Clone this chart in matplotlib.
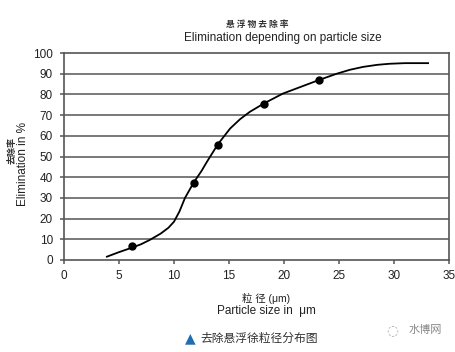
import matplotlib
matplotlib.use('Agg')
import matplotlib.pyplot as plt
import numpy as np

plt.rcParams['font.family'] = ['Liberation Sans', 'Noto Sans CJK SC', 'DejaVu Sans']

# measured points
pt_x = [6.2, 11.8, 14.0, 18.2, 23.2]
pt_y = [7.0, 37.0, 55.5, 75.5, 86.8]

# fitted curve
curve_x = [3.9, 5.0, 6.2, 7.0, 7.8, 8.8, 9.5, 10.0, 10.5, 11.0, 11.8, 12.5, 13.0, 14.0,
           15.1, 16.0, 16.9, 18.2, 19.9, 21.5, 23.2, 24.8, 26.0, 27.2, 28.5, 29.6, 31.0, 33.1]
curve_y = [1.6, 3.8, 6.0, 7.6, 9.7, 12.8, 15.6, 18.5, 23.5, 30.0, 37.5, 43.0, 47.5, 56.0,
           63.5, 68.0, 71.6, 75.7, 80.4, 83.6, 87.0, 90.0, 91.9, 93.3, 94.3, 94.8, 95.1, 95.1]

xticks = [0, 5, 10, 15, 20, 25, 30, 35]
yticks = [0, 10, 20, 30, 40, 50, 60, 70, 80, 90, 100]

fig = plt.figure(figsize=(4.56, 3.52), dpi=100)
ax = fig.add_axes([64/456, 1-260/352, (449-64)/456, (260-53)/352])

grid_c = '#555555'
for y in yticks[1:-1]:
    ax.axhline(y, color=grid_c, lw=1.1, zorder=1)

ax.plot(curve_x, curve_y, color='black', lw=1.3, zorder=3)
ax.plot(pt_x, pt_y, 'o', color='black', markersize=5, zorder=4)

ax.set_xlim(0, 35)
ax.set_ylim(0, 100)
ax.set_xticks(xticks)
ax.set_yticks(yticks)
for s in ax.spines.values():
    s.set_color(grid_c)
    s.set_linewidth(1.2)
ax.tick_params(axis='both', direction='out', length=3, width=1.1, color=grid_c,
               labelsize=8.5, labelcolor='#222222')
ax.tick_params(axis='y', pad=5)
ax.tick_params(axis='x', pad=4)

cjk = ['Noto Sans CJK SC', 'DejaVu Sans']

fig.text(257/456, 1-25/352, '悬 浮 物 去 除 率', ha='center', va='center', fontsize=6.3,
         fontweight='bold', color='#333333', family=cjk)
fig.text(283/456, 1-38/352, 'Elimination depending on particle size', ha='center', va='center',
         fontsize=8.5, color='#222222')

fig.text(12/456, 1-150/352, '去除率', ha='center', va='center', rotation=90, fontsize=6.5,
         fontweight='bold', color='#333333', family=cjk)
fig.text(23/456, 1-164/352, 'Elimination in %', ha='center', va='center', rotation=90, fontsize=8.5,
         color='#222222')

fig.text(266/456, 1-298/352, '粒 径 (μm)', ha='center', va='center', fontsize=7.5, color='#222222')
fig.text(266/456, 1-311/352, 'Particle size in  μm', ha='center', va='center', fontsize=8.5, color='#222222')

fig.text(190/456, 1-338/352, '▲', ha='center', va='center', fontsize=10, color='#1f6db3',
         family=['DejaVu Sans'])
fig.text(259/456, 1-338/352, '去除悬浮徐粒径分布图', ha='center', va='center', fontsize=8.5,
         color='#333333', family=cjk)

fig.text(425/456, 1-330/352, '水博网', ha='center', va='center', fontsize=8, color='#888888', family=cjk)
fig.text(392/456, 1-330/352, '◌', ha='center', va='center', fontsize=10, color='#aaaaaa',
         family=['DejaVu Sans'])

fig.savefig('out.png', dpi=100)
